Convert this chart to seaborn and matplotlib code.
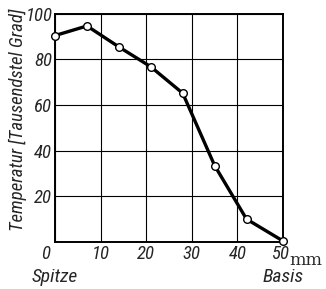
import matplotlib
matplotlib.use("Agg")
import matplotlib.pyplot as plt
import matplotlib.transforms as mtransforms
from matplotlib import font_manager
import seaborn as sns
import pandas as pd

# distance from tip (mm) and temperature (thousandths of a degree)
distance = [0, 7, 14, 21, 28, 35, 42, 50]
temperature = [90.5, 94.7, 85.5, 76.8, 65.2, 33.5, 10, 0.4]
x_ticks = [0, 10, 20, 30, 40, 50]
x_labels = ["0", "10", "20", "30", "40", "50"]
y_ticks = [20, 40, 60, 80, 100]
y_labels = ["20", "40", "60", "80", "100"]

df = pd.DataFrame({"mm": distance, "temp": temperature})

sns.set_style("white")
names = {f.name for f in font_manager.fontManager.ttflist}
narrow = [n for n in ["Liberation Sans Narrow", "DejaVu Sans Condensed", "Roboto Condensed"] if n in names]
condensed = bool(narrow)
plt.rcParams["font.family"] = narrow + ["DejaVu Sans"]
plt.rcParams["font.style"] = "italic"
fs = 13.5 if condensed else 10.5
fs_lab = 13.5 if condensed else 10

fig = plt.figure(figsize=(3.26, 2.89), dpi=100)
ax = fig.add_axes([0.169, 0.163, 0.699, 0.789])

sns.lineplot(data=df, x="mm", y="temp", ax=ax, color="black", linewidth=2.4,
             marker="o", markersize=5.5, markerfacecolor="white",
             markeredgecolor="black", markeredgewidth=1.0, clip_on=False, zorder=5)

ax.set_xlim(0, 50)
ax.set_ylim(0, 100)
ax.set_xticks(x_ticks)
ax.set_xticklabels(x_labels, fontsize=fs)
ax.set_yticks(y_ticks)
ax.set_yticklabels(y_labels, fontsize=fs)
ax.tick_params(length=0, pad=2)
ax.grid(True, color="black", linewidth=0.8)
for s in ax.spines.values():
    s.set_color("black")
    s.set_linewidth(1.4)

# nudge the 0 and 50 labels left, as in the print
xl = ax.get_xticklabels()
for lab, dx in [(xl[0], -7), (xl[-1], -2)]:
    lab.set_transform(lab.get_transform() + mtransforms.ScaledTranslation(dx / 72, 0, fig.dpi_scale_trans))

ax.set_xlabel("")
ax.set_ylabel("Temperatur [Tausendstel Grad]", fontsize=fs_lab)
ax.yaxis.set_label_coords(-0.125, 0.535)

trans = mtransforms.blended_transform_factory(ax.transData, ax.transAxes)
ax.text(51.3, -0.045, "mm", transform=trans, fontsize=fs - 1, style="normal",
        family="DejaVu Serif", ha="left", va="top")
ax.text(0, -0.115, "Spitze", transform=trans, fontsize=fs + 0.5, ha="center", va="top")
ax.text(50, -0.115, "Basis", transform=trans, fontsize=fs + 0.5, ha="center", va="top")

fig.savefig("out.png", dpi=100)
